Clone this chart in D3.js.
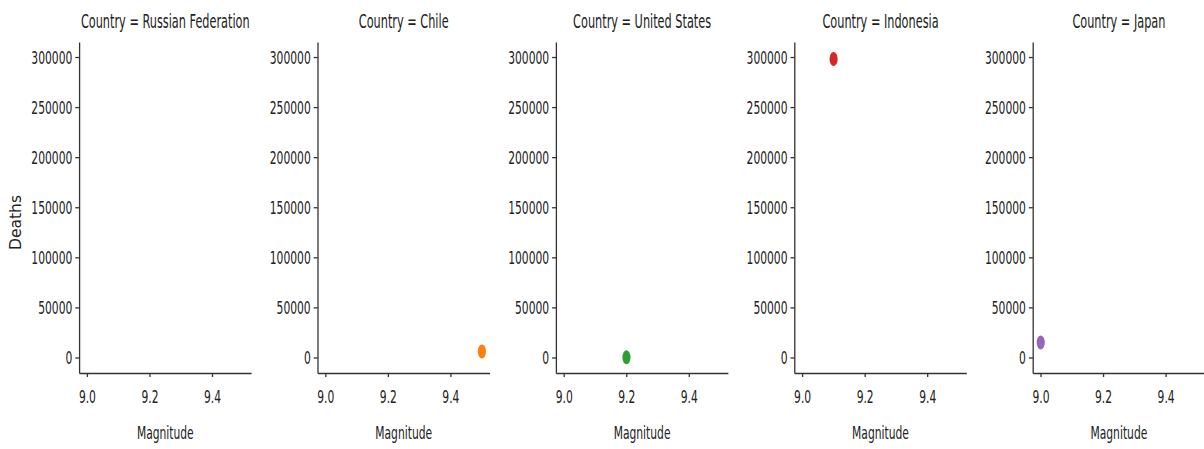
<!DOCTYPE html>
<html>
<head>
<meta charset="utf-8">
<script src="https://cdn.jsdelivr.net/npm/d3@7"></script>
<style>
  html, body { margin: 0; padding: 0; background: #fff; }
  svg text { font-family: "DejaVu Sans", sans-serif; fill: #222; }
</style>
</head>
<body>
<svg id="chart" width="1204" height="449"></svg>
<script>
// Strongest earthquakes: one facet per country
const countries = ["Russian Federation", "Chile", "United States", "Indonesia", "Japan"];
const magnitudes = [9.0, 9.5, 9.2, 9.1, 9.0];
const deaths = [null, 6000, 131, 298000, 15000];
const colors = ["#1f77b4", "#ff7f0e", "#2ca02c", "#d62728", "#9467bd"];
const xTicks = [9.0, 9.2, 9.4];
const yTicks = [0, 50000, 100000, 150000, 200000, 250000, 300000];
const xDomain = [8.975, 9.525];
const yDomain = [-15500, 315000];

// The figure is drawn in a horizontally condensed frame
const SX = 0.58;
const panelLeft0 = 79.3, panelStep = 238.4, panelW = 172;
const panelTop = 42, panelBottom = 373;

const svg = d3.select("#chart");
const root = svg.append("g").attr("transform", `scale(${SX},1)`);

const x = d3.scaleLinear().domain(xDomain).range([0, panelW / SX]);
const y = d3.scaleLinear().domain(yDomain).range([panelBottom, panelTop]);

countries.forEach((country, i) => {
  const left = (panelLeft0 + i * panelStep) / SX;
  const g = root.append("g").attr("transform", `translate(${left},0)`);

  // title
  g.append("text")
    .attr("x", x.range()[1] / 2)
    .attr("y", 28)
    .attr("text-anchor", "middle")
    .attr("font-size", 19.5)
    .text(`Country = ${country}`);

  // y axis
  const ya = g.append("g")
    .call(d3.axisLeft(y).tickValues(yTicks).tickFormat(d3.format("d"))
      .tickSize(4 / SX).tickSizeOuter(0).tickPadding(3 / SX));
  // x axis
  const xa = g.append("g")
    .attr("transform", `translate(0,${panelBottom})`)
    .call(d3.axisBottom(x).tickValues(xTicks).tickFormat(d3.format(".1f"))
      .tickSize(4).tickSizeOuter(0).tickPadding(9));

  [ya, xa].forEach(a => {
    a.selectAll("path, line")
      .attr("stroke", "#333")
      .attr("stroke-width", 1.3)
      .attr("vector-effect", "non-scaling-stroke");
    a.selectAll("text").attr("font-size", 18.5).attr("fill", "#222");
  });
  ya.selectAll("text").attr("dy", "0.35em");
  xa.selectAll("text").attr("dy", "0.9em");

  // x label
  g.append("text")
    .attr("x", x.range()[1] / 2)
    .attr("y", 439)
    .attr("text-anchor", "middle")
    .attr("font-size", 18.5)
    .text("Magnitude");

  // the point
  if (deaths[i] !== null) {
    g.append("circle")
      .attr("cx", x(magnitudes[i]))
      .attr("cy", y(deaths[i]))
      .attr("r", 7)
      .attr("fill", colors[i]);
  }
});

// shared y label, not condensed
svg.append("text")
  .attr("transform", `translate(21,${(195 + 250) / 2}) rotate(-90)`)
  .attr("text-anchor", "middle")
  .attr("font-size", 15.5)
  .text("Deaths");
</script>
</body>
</html>
